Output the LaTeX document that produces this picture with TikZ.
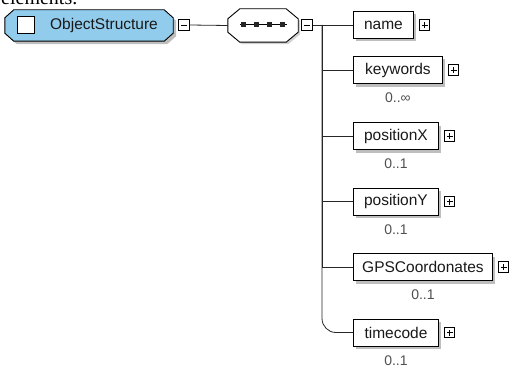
\documentclass[tikz,border=0pt]{standalone}
\usepackage{fontspec}
\setmainfont{Liberation Sans}
\newfontfamily\docserif{Liberation Serif}
\usepackage{tikz}
\usetikzlibrary{positioning}
\usetikzlibrary{shadows}

\definecolor{elemblue}{RGB}{146,204,236}
\definecolor{shadowgray}{RGB}{190,190,190}
\definecolor{cardgray}{RGB}{80,80,80}

% outline with cut corners round a node
\newcommand\cutcorners[3]{%
  ([xshift=#2]#1.north west) -- ([xshift=-#2]#1.north east) -- ([yshift=-#3]#1.north east)
  -- ([yshift=#3]#1.south east) -- ([xshift=-#2]#1.south east) -- ([xshift=#2]#1.south west)
  -- ([yshift=#3]#1.south west) -- ([yshift=-#3]#1.north west) -- cycle}

\tikzset{
  boxshadow/.style={drop shadow={shadow xshift=3pt, shadow yshift=-3pt, fill=shadowgray, opacity=1}},
  frame/.style={minimum width=#1, inner sep=0pt},
  checkbox/.style={draw, fill=white, line width=0.9pt, minimum size=17pt, inner sep=0pt},
  seqdot/.style={fill=black!85, minimum size=5pt, inner sep=0pt},
  elem/.style={draw, fill=white, line width=0.9pt, minimum height=27pt, inner sep=0pt,
    anchor=west, font=\fontsize{15.5}{18}\selectfont, text=black!90, boxshadow},
  card/.style={font=\fontsize{14}{16}\selectfont, text=cardgray, inner sep=1pt},
  togglebox/.style={draw, fill=white, line width=0.7pt, minimum size=10.5pt, inner sep=0pt},
  plusbox/.style={togglebox, path picture={
    \draw (path picture bounding box.center) ++(-3pt,0pt) -- ++(6pt,0pt);
    \draw (path picture bounding box.center) ++(0pt,-3pt) -- ++(0pt,6pt);}},
  minusbox/.style={togglebox, path picture={
    \draw (path picture bounding box.center) ++(-3pt,0pt) -- ++(6pt,0pt);}},
  conn/.style={line width=0.8pt, draw=black!85}
}

\begin{document}
\begin{tikzpicture}[x=1pt, y=-1pt]
  \useasboundingbox (0,0) rectangle (514,369);
  \begin{scope}
    \clip (0,0) rectangle (514,369);
    \node[anchor=base west, inner sep=0pt, font=\docserif\fontsize{20}{24}\selectfont] (caption) at (1,5) {elements.};
  \end{scope}

  \node[frame=168pt, minimum height=31pt] (root) at (89,25.5) {};
  \draw[fill=elemblue, line width=0.9pt, boxshadow] \cutcorners{root}{9pt}{8pt};
  \node[checkbox] (check) at (26,25) {};
  \node[font=\fontsize{15.5}{18}\selectfont, text=black!90] (rootname) at (104,25) {ObjectStructure};
  \node[minusbox] (m1) at (184,25) {};

  \node[frame=70pt, minimum height=33pt] (seq) at (263,25.5) {};
  \draw[fill=white, line width=0.9pt, drop shadow={shadow xshift=2pt, shadow yshift=-2pt, fill=shadowgray!70, opacity=1}]
    \cutcorners{seq}{12pt}{10pt};
  \draw[line width=1pt] (240,25) -- (287,25);
  \foreach \x in {243,256,269,282}
    \node[seqdot] at (\x,25) {};
  \node[minusbox] (m2) at (307,25) {};

  \node[elem, minimum width=60pt] (name) at (353,25) {name};
  \node[elem, minimum width=89pt] (kw) at (353,70) {keywords};
  \node[elem, minimum width=85pt] (px) at (353,136) {positionX};
  \node[elem, minimum width=85pt] (py) at (353,201.5) {positionY};
  \node[elem, minimum width=139pt] (gps) at (353,267) {GPSCoordonates};
  \node[elem, minimum width=85pt] (tc) at (353,332.5) {timecode};

  \foreach \n in {name,kw,px,py,gps,tc}
    \node[plusbox, right=5pt of \n] (\n plus) {};

  \node[card, below=8pt of kw] (kwcard) {0..∞};
  \node[card, below=8pt of px] (pxcard) {0..1};
  \node[card, below=8pt of py] (pycard) {0..1};
  \node[card, below=8pt of gps] (gpscard) {0..1};
  \node[card, below=8pt of tc] (tccard) {0..1};

  \coordinate (trunk) at (322,25);
  \draw[conn] (m1.east) -- (seq.west);
  \draw[conn] (m2.east) -- (name.west);
  \foreach \n in {kw,px,py,gps}
    \draw[conn] (trunk) |- (\n.west);
  \draw[conn, rounded corners=14pt] (trunk) |- (tc.west);
\end{tikzpicture}
\end{document}
